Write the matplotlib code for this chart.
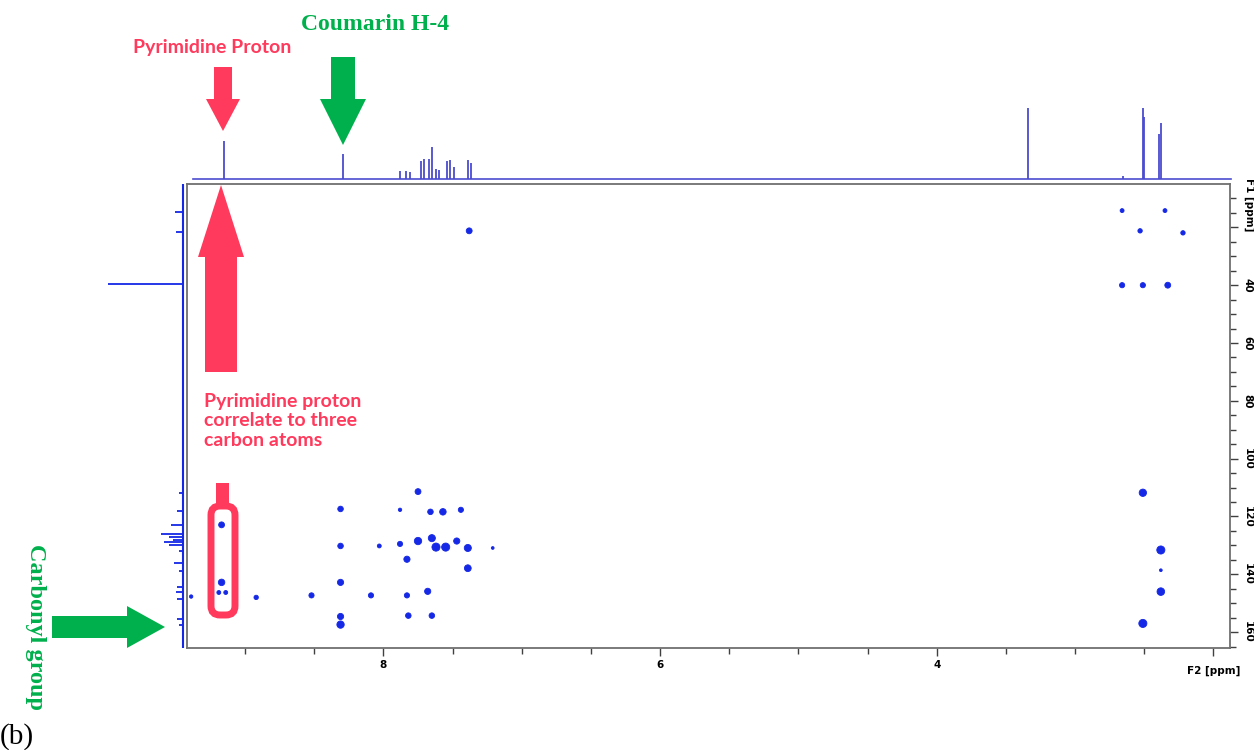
import matplotlib
matplotlib.use('Agg')
import matplotlib.pyplot as plt
import numpy as np
from matplotlib.patches import FancyArrow, FancyBboxPatch, Rectangle

# 1H projection (top): peak positions (ppm) and heights
h_ppm = [9.15, 8.29, 7.88, 7.84, 7.81, 7.73, 7.71, 7.67, 7.65, 7.62, 7.60, 7.54, 7.52, 7.49,
         7.39, 7.37, 3.34, 2.65, 2.51, 2.50, 2.39, 2.38]
h_int = [38, 25, 8, 8, 7, 18, 20, 20, 32, 10, 9, 18, 19, 12,
         19, 16, 71, 3, 71, 62, 45, 56]

# 13C projection (left): peak positions (ppm) and heights
c_ppm = [14.6, 21.5, 39.5, 112, 118, 123, 126, 127, 128, 129, 130, 132, 136, 139,
         144.5, 146, 148.5, 155.6, 157.5]
c_int = [8, 7, 75, 4, 6, 12, 22, 14, 10, 19, 14, 4, 9, 4, 6, 7, 6, 6, 4]

# HMBC cross peaks: F2 (1H), F1 (13C), relative size
xp_h = [2.66, 2.35, 2.53, 2.22, 2.66, 2.51, 2.33, 7.38, 2.51, 2.38, 2.38, 2.38, 2.51,
        7.75, 8.31, 7.88, 7.66, 7.57, 7.44,
        9.17,
        8.31, 8.03, 7.88, 7.75, 7.65, 7.62, 7.55, 7.47, 7.39, 7.21,
        7.83, 7.39,
        9.17, 8.31,
        9.19, 9.14, 9.39, 8.92, 8.52, 8.09, 7.83, 7.68,
        8.31, 8.31, 7.82, 7.65]
xp_c = [14.2, 14.2, 21.2, 21.9, 40.0, 40.0, 40.0, 21.2, 111.8, 131.6, 138.6, 146.0, 157.0,
        111.4, 117.4, 117.7, 118.4, 118.4, 117.7,
        122.9,
        130.2, 130.2, 129.5, 128.5, 127.5, 130.6, 130.6, 128.5, 130.9, 130.9,
        134.8, 137.9,
        142.8, 142.8,
        146.3, 146.3, 147.7, 148.0, 147.3, 147.3, 147.3, 145.9,
        154.6, 157.4, 154.3, 154.3]
xp_s = [8, 8, 10, 10, 14, 14, 18, 18, 28, 34, 4, 30, 34,
        18, 16, 6, 16, 22, 14,
        18,
        16, 8, 14, 28, 26, 34, 34, 20, 26, 4,
        20, 24,
        22, 20,
        8, 8, 6, 10, 14, 14, 14, 20,
        20, 28, 16, 16]

RED = '#FF3A5C'
GREEN = '#00B04C'
BLUE = '#1428E6'

fig = plt.figure(figsize=(12.54, 7.5), dpi=100)
W, H = 1254.0, 750.0


def px_axes(x0, y0, x1, y1):
    return fig.add_axes([x0 / W, 1 - y1 / H, (x1 - x0) / W, (y1 - y0) / H])


xlim = (9.42, 1.88)
ylim = (165.5, 5.0)

# main 2D plot
ax = px_axes(187, 184, 1230, 648)
ax.scatter(xp_h, xp_c, s=xp_s, c=BLUE, marker='o', linewidths=0.6, edgecolors=BLUE)
ax.set_xlim(*xlim)
ax.set_ylim(*ylim)
for sp in ax.spines.values():
    sp.set_color('#707070')
    sp.set_linewidth(1.3)
ax.yaxis.tick_right()
ax.set_xticks([8, 6, 4, 2])
ax.set_xticklabels(['8', '6', '4', ''])
ax.set_xticks(np.arange(2, 9.5, 0.5), minor=True)
ax.set_yticks(np.arange(20, 161, 20))
ax.set_yticklabels([''] + [str(v) for v in range(40, 161, 20)], rotation=-90, va='center')
ax.set_yticks(np.arange(10, 166, 5), minor=True)
ax.tick_params(which='major', length=6, width=1, color='#404040', labelsize=7.5, pad=3)
ax.tick_params(which='minor', length=4, width=1, color='#404040')
for lab in ax.get_xticklabels() + ax.get_yticklabels():
    lab.set_fontweight('bold')
ax.text(2.0, 171.5, 'F2 [ppm]', fontsize=7.5, fontweight='bold', ha='center', va='top')
ax.text(1.74, 12.0, 'F1 [ppm]', fontsize=7.5, fontweight='bold', ha='center', va='center',
        rotation=-90)

# top 1H projection
axt = px_axes(187, 100, 1230, 182)
axt.vlines(h_ppm, 0, h_int, color='#4B4BCF', lw=1.3)
axt.plot([9.38, 1.87], [0, 0], color='#4B4BCF', lw=1.2, clip_on=False)
axt.set_xlim(*xlim)
axt.set_ylim(-3, 79)
axt.axis('off')

# left 13C projection
axl = px_axes(100, 184, 186, 648)
axl.hlines(c_ppm, 0, c_int, color=BLUE, lw=1.3)
axl.plot([0, 0], [5.5, 165], color=BLUE, lw=1.5)
axl.set_ylim(*ylim)
axl.set_xlim(83, -3)
axl.axis('off')

# annotation overlay in pixel coordinates
ov = fig.add_axes([0, 0, 1, 1])
ov.set_xlim(0, W)
ov.set_ylim(H, 0)
ov.axis('off')
ov.patch.set_alpha(0)

ov.add_patch(FancyArrow(223, 67, 0, 64, width=18, head_width=34, head_length=32,
                        length_includes_head=True, color=RED, lw=0))
ov.add_patch(FancyArrow(343, 57, 0, 88, width=24, head_width=46, head_length=46,
                        length_includes_head=True, color=GREEN, lw=0))
ov.add_patch(FancyArrow(221, 372, 0, -187, width=32, head_width=46, head_length=72,
                        length_includes_head=True, color=RED, lw=0))
ov.add_patch(FancyArrow(52, 627, 113, 0, width=22, head_width=42, head_length=38,
                        length_includes_head=True, color=GREEN, lw=0))
ov.add_patch(Rectangle((216, 483), 13, 22, color=RED, lw=0))
ov.add_patch(FancyBboxPatch((211, 506), 24, 109, boxstyle='round,pad=0,rounding_size=9',
                            fill=False, ec=RED, lw=5))

ov.text(212, 48, 'Pyrimidine Proton', color=RED, fontsize=14, fontweight='bold',
        family='Lato', ha='center', va='center')
ov.text(375, 24, 'Coumarin H-4', color=GREEN, fontsize=17, fontweight='bold',
        family='Liberation Serif', ha='center', va='center')
ov.text(204, 421, 'Pyrimidine proton\ncorrelate to three\ncarbon atoms', color=RED,
        fontsize=14, fontweight='bold', family='Lato', ha='left', va='center',
        linespacing=1.2)
ov.text(35, 627, 'Carbonyl group', color=GREEN, fontsize=17.5, fontweight='bold',
        family='Liberation Serif', ha='center', va='center', rotation=-90)
ov.text(0, 737, '(b)', color='black', fontsize=21, family='Liberation Serif',
        ha='left', va='center')

fig.savefig('out.png', dpi=100)
